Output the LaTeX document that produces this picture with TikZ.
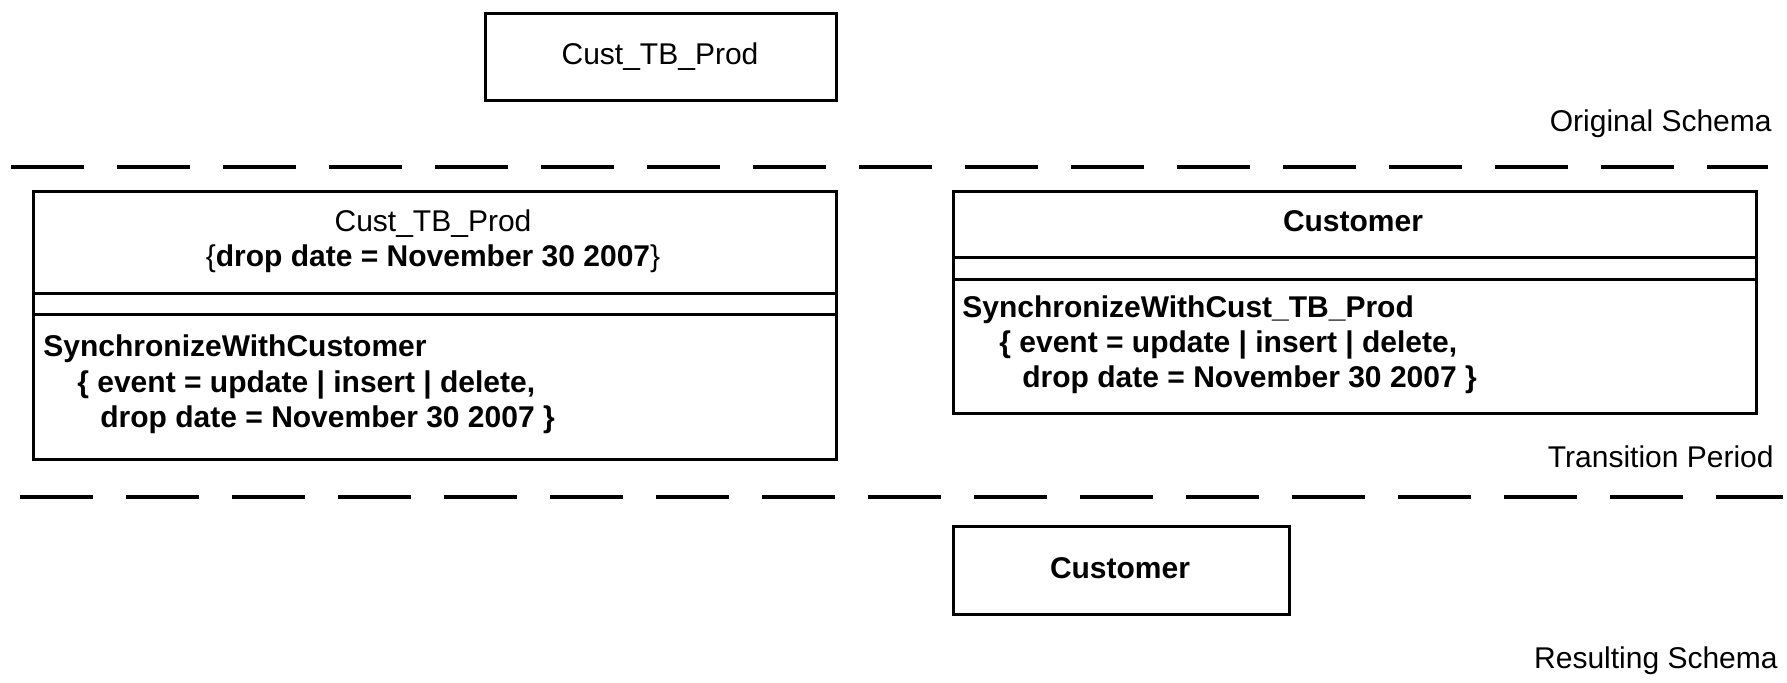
\documentclass[tikz,border=0pt]{standalone}
\usepackage{fontspec}
\setmainfont{Liberation Sans}
\begin{document}
\begin{tikzpicture}[x=0.5pt, y=-0.5pt,
  every node/.style={font=\fontsize{15}{17.8}\selectfont},
  frame/.style={draw, line width=1.7pt, inner sep=0pt, anchor=north west},
  txt/.style={inner sep=0pt, anchor=base},
  lefttxt/.style={inner sep=0pt, anchor=base west, font=\fontsize{15}{17.8}\selectfont\bfseries},
  tag/.style={inner sep=0pt, anchor=base east},
  divider/.style={line width=2pt, dash pattern=on 36.5pt off 16.5pt}]

  % canvas
  \fill[white] (0,0) rectangle (1787,683);
  \useasboundingbox (0,0) rectangle (1787,683);

  % original schema
  \node[frame, minimum width=175.5pt, minimum height=43.5pt] (orig) at (484,12) {};
  \node[txt] (origname) at (660,65) {Cust\_TB\_Prod};
  \node[tag] (lblorig) at (1772,132) {Original Schema};

  % first separator
  \coordinate (s1a) at (11,167);
  \coordinate (s1b) at (1768,167);
  \draw[divider] (s1a) -- (s1b);

  % transition period: Cust_TB_Prod class
  \node[frame, minimum width=401.5pt, minimum height=51pt] (lhead) at (32,190) {};
  \node[frame, minimum width=401.5pt, minimum height=10.5pt] (lattr) at (32,292) {};
  \node[frame, minimum width=401.5pt, minimum height=72.5pt] (lops) at (32,313) {};
  \node[txt] (lname) at (433,232) {Cust\_TB\_Prod};
  \node[txt] (ldrop) at (433,267) {\{\textbf{drop date = November 30 2007}\}};
  \node[lefttxt] (lop1) at (43,357) {SynchronizeWithCustomer};
  \node[lefttxt] (lop2) at (77,393) {\{ event = update | insert | delete,};
  \node[lefttxt] (lop3) at (100,428) {drop date = November 30 2007 \}};

  % transition period: Customer class
  \node[frame, minimum width=401.5pt, minimum height=33pt] (rhead) at (952,190) {};
  \node[frame, minimum width=401.5pt, minimum height=11pt] (rattr) at (952,256) {};
  \node[frame, minimum width=401.5pt, minimum height=67pt] (rops) at (952,278) {};
  \node[txt, font=\fontsize{15}{17.8}\selectfont\bfseries] (rname) at (1353,232) {Customer};
  \node[lefttxt] (rop1) at (962,318) {SynchronizeWithCust\_TB\_Prod};
  \node[lefttxt] (rop2) at (999,353) {\{ event = update | insert | delete,};
  \node[lefttxt] (rop3) at (1022,388) {drop date = November 30 2007 \}};
  \node[tag] (lbltrans) at (1774,468) {Transition Period};

  % second separator
  \coordinate (s2a) at (20,497);
  \coordinate (s2b) at (1783,497);
  \draw[divider] (s2a) -- (s2b);

  % resulting schema
  \node[frame, minimum width=168pt, minimum height=44pt] (result) at (952,525) {};
  \node[txt, font=\fontsize{15}{17.8}\selectfont\bfseries] (resname) at (1120,578) {Customer};
  \node[tag] (lblres) at (1778,668) {Resulting Schema};
\end{tikzpicture}
\end{document}
